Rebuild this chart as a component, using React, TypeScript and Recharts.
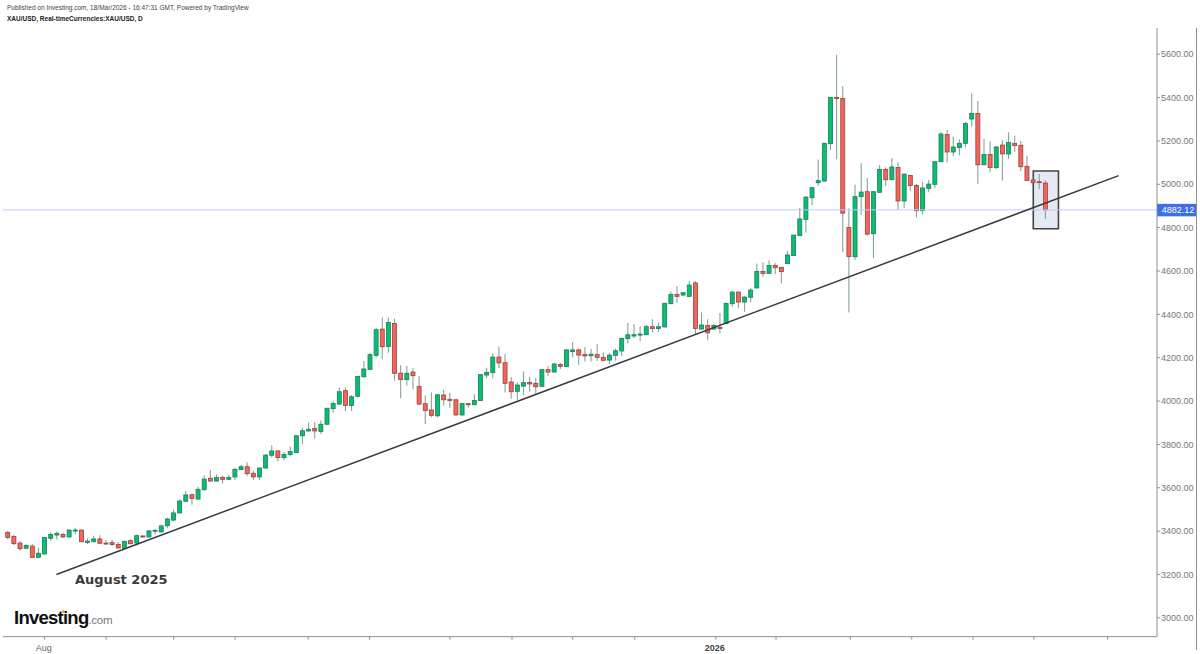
import React from "react";
import { ComposedChart, Bar, Line, XAxis, YAxis, ReferenceArea, ReferenceLine } from "recharts";

const opens = [
  3394,3376,3345,3321,3331,3279,3295,3367,3382,3385,
  3373,3402,3405,3348,3351,3364,3345,3347,3339,3321,
  3356,3345,3378,3373,3401,3396,3425,3451,3484,3538,
  3568,3548,3591,3644,3631,3648,3639,3650,3684,3697,
  3667,3650,3691,3750,3770,3739,3754,3762,3840,3862,
  3874,3860,3893,3965,3986,4048,3980,4022,4112,4146,
  4211,4332,4252,4358,4129,4099,4134,4068,3988,3959,
  3932,4028,4008,4006,3936,3988,3983,4002,4120,4131,
  4203,4177,4088,4045,4069,4086,4082,4068,4145,4134,
  4169,4160,4228,4236,4215,4209,4214,4202,4189,4211,
  4231,4288,4300,4305,4306,4343,4335,4342,4449,4492,
  4489,4483,4545,4332,4349,4332,4340,4357,4449,4503,
  4457,4479,4522,4598,4589,4626,4617,4634,4671,4763,
  4838,4938,5007,5015,5187,5401,5396,4801,4666,4943,
  4966,4772,4963,5069,5021,5078,4923,5041,4995,4878,
  4981,5000,5104,5230,5149,5170,5189,5301,5327,5090,
  5138,5077,5181,5140,5189,5180,5083,5020,5012,5006,
];
const highs = [
  3401,3381,3353,3339,3342,3322,3373,3395,3398,3393,
  3408,3416,3408,3367,3378,3381,3359,3359,3350,3356,
  3362,3385,3378,3404,3408,3431,3462,3499,3547,3585,
  3573,3605,3657,3682,3662,3657,3660,3694,3705,3717,
  3679,3694,3754,3796,3774,3765,3790,3842,3877,3900,
  3903,3910,3968,3999,4063,4063,4028,4117,4185,4223,
  4338,4385,4386,4380,4165,4162,4151,4115,4026,4039,
  4032,4052,4037,4008,3992,3991,4032,4125,4154,4220,
  4252,4217,4111,4086,4137,4112,4108,4146,4163,4177,
  4176,4239,4271,4242,4248,4240,4262,4225,4222,4242,
  4292,4360,4355,4345,4351,4377,4363,4454,4505,4531,
  4502,4554,4554,4409,4377,4355,4406,4454,4506,4506,
  4483,4523,4635,4640,4648,4637,4618,4692,4766,4892,
  4944,4989,5114,5190,5403,5598,5453,4889,4998,5097,
  5029,4967,5089,5078,5121,5101,5049,5044,5001,5012,
  5020,5106,5241,5250,5220,5207,5289,5420,5384,5209,
  5198,5178,5204,5240,5224,5200,5132,5027,5047,5018,
];
const lows = [
  3362,3336,3310,3316,3276,3278,3291,3356,3361,3367,
  3371,3387,3350,3341,3347,3341,3338,3333,3321,3318,
  3338,3335,3370,3371,3385,3395,3413,3445,3481,3533,
  3522,3545,3588,3628,3628,3620,3637,3636,3682,3654,
  3636,3636,3690,3740,3722,3727,3744,3760,3802,3859,
  3827,3848,3890,3946,3983,3954,3954,4017,4109,4145,
  4200,4192,4223,4094,4012,4071,4054,3982,3894,3925,
  3925,3979,3969,3932,3932,3969,3982,4000,4105,4105,
  4151,4039,4011,4005,4028,4043,4029,4065,4116,4132,
  4148,4157,4202,4168,4182,4183,4185,4183,4171,4186,
  4208,4265,4291,4277,4305,4317,4319,4340,4448,4454,
  4487,4480,4309,4331,4280,4331,4312,4355,4434,4431,
  4412,4457,4518,4574,4588,4585,4542,4632,4669,4761,
  4777,4904,4992,5012,5158,5115,4686,4408,4651,4860,
  4764,4660,4961,4992,5020,4881,4890,4970,4847,4861,
  4963,4983,5103,5100,5130,5134,5170,5267,5001,5089,
  5055,5070,5018,5117,5150,5060,5015,5004,4977,4840,
];
const closes = [
  3371,3342,3319,3334,3279,3298,3371,3384,3390,3373,
  3405,3405,3351,3354,3364,3344,3341,3338,3322,3353,
  3342,3379,3373,3401,3404,3424,3456,3484,3539,3567,
  3551,3593,3640,3631,3648,3639,3648,3685,3697,3665,
  3650,3691,3751,3770,3739,3754,3767,3840,3863,3870,
  3862,3893,3967,3989,4043,3980,4020,4114,4148,4214,
  4329,4251,4362,4128,4099,4128,4117,3986,3957,3934,
  4029,4006,4003,3936,3988,3983,4003,4122,4132,4203,
  4176,4082,4043,4074,4085,4079,4066,4145,4134,4171,
  4160,4236,4236,4212,4208,4216,4202,4188,4212,4232,
  4289,4306,4306,4309,4343,4334,4343,4451,4492,4483,
  4500,4535,4335,4351,4315,4349,4335,4451,4503,4457,
  4480,4512,4598,4589,4625,4615,4597,4674,4766,4840,
  4941,4984,5017,5189,5401,5395,4867,4667,4943,4964,
  4770,4966,5069,5021,5080,4923,5047,4994,4878,4983,
  5001,5104,5232,5149,5172,5189,5280,5327,5090,5138,
  5077,5172,5140,5193,5178,5081,5018,5007,5009,4882.12,
];

const priceTicks = [3000,3200,3400,3600,3800,4000,4200,4400,4600,4800,5000,5200,5400,5600];
const timeTicks = [6.1,16.1,27.1,37.1,49,59,72.1,82.2,92.1,102.2,115.4,125.2,137.3,147.3,157.3,167.2,179.2];
const timeLabels: Record<string, string> = { "6.1": "Aug", "115.4": "2026" };
const lastPrice = 4882.12;
const trendIndex = [8, 181];
const trendPrice = [3200, 5040];
const boxIndex = [167.1, 171.2];
const boxPrice = [4795, 5061];

const rows = opens.map((o, i) => ({ i, o, c: closes[i], h: highs[i], l: lows[i], range: [lows[i], highs[i]] }));
const trendRows = trendIndex.map((i, k) => ({ i, trend: trendPrice[k] }));

const UP = "#0cbc70", UP_EDGE = "#14805a", DOWN = "#f4645a", DOWN_EDGE = "#93453e", WICK = "#86a497";

function Candle(props: any) {
  const { x, y, width, height, payload } = props;
  const { o, c, h, l } = payload;
  const k = h > l ? height / (h - l) : 0;
  const cx = x + width / 2;
  const top = y + (h - Math.max(o, c)) * k;
  const bot = y + (h - Math.min(o, c)) * k;
  const up = c >= o;
  return (
    <g>
      <line x1={cx} x2={cx} y1={y} y2={y + height} stroke={WICK} strokeWidth={1.1} />
      <rect x={cx - 2} y={top} width={4} height={Math.max(bot - top, 1)} fill={up ? UP : DOWN} stroke={up ? UP_EDGE : DOWN_EDGE} strokeWidth={0.8} />
    </g>
  );
}

function TimeTick(props: any) {
  const { x, y, payload } = props;
  const label = timeLabels[String(payload.value)];
  if (!label) return null;
  return (
    <text x={x - 1} y={y + 9} textAnchor="middle" fontFamily="Liberation Sans" fontSize={9} fill={label === "2026" ? "#444" : "#666"} fontWeight={label === "2026" ? 700 : 400}>
      {label}
    </text>
  );
}

function PriceTag(props: any) {
  const y = props.viewBox.y;
  return (
    <g>
      <rect x={1157} y={y - 6} width={40} height={12.5} fill="#3f6fe4" />
      <text x={1161.7} y={y + 3.2} fontFamily="Liberation Sans" fontSize={9} fill="#fff">{lastPrice.toFixed(2)}</text>
    </g>
  );
}

export default function App() {
  return (
    <div style={{ position: "absolute", left: 0, top: 0, width: 1200, height: 654, background: "#fff", overflow: "hidden" }}>
      <ComposedChart width={1200} height={654} data={rows} margin={{ top: 28, right: 0, bottom: 0, left: 3 }}>
        <XAxis dataKey="i" type="number" domain={[-0.7, 187.25]} ticks={timeTicks} interval={0} allowDataOverflow height={17.3} tickSize={3} stroke="#8e8e8e" tick={<TimeTick />} />
        <YAxis orientation="right" type="number" domain={[2913, 5721]} ticks={priceTicks} interval={0} allowDataOverflow width={43} tickSize={3} tickMargin={1} stroke="#8e8e8e" tickFormatter={(v: number) => v.toFixed(2)} tick={{ fontFamily: "Liberation Sans", fontSize: 9, fill: "#777" }} />
        <ReferenceArea x1={boxIndex[0]} x2={boxIndex[1]} y1={boxPrice[0]} y2={boxPrice[1]} fill="#e4e9f4" fillOpacity={1} stroke="#444" strokeWidth={1.6} />
        <ReferenceLine y={lastPrice} stroke="#c3cff5" strokeWidth={1} label={<PriceTag />} />
        <Bar dataKey="range" barSize={5} isAnimationActive={false} shape={<Candle />} />
        <Line data={trendRows} dataKey="trend" stroke="#3a3a3a" strokeWidth={1.5} dot={false} isAnimationActive={false} />
      </ComposedChart>
      <div style={{ position: "absolute", left: 1196, top: 28, width: 1, height: 622, background: "#8e8e8e" }} />
      <div style={{ position: "absolute", left: 7, top: 4, fontFamily: "Liberation Sans", fontSize: 6.5, color: "#444", whiteSpace: "nowrap", lineHeight: "8px" }}>
        Published on Investing.com, 18/Mar/2026 - 16:47:31 GMT, Powered by TradingView
      </div>
      <div style={{ position: "absolute", left: 7, top: 15, fontFamily: "Liberation Sans", fontSize: 6.5, fontWeight: 700, color: "#222", whiteSpace: "nowrap", lineHeight: "8px" }}>
        XAU/USD, Real-timeCurrencies:XAU/USD, D
      </div>
      <div style={{ position: "absolute", left: 75, top: 571, fontFamily: "DejaVu Sans", fontSize: 13, fontWeight: 700, color: "#3a3a3a", whiteSpace: "nowrap", lineHeight: "18px" }}>
        August 2025
      </div>
      <div style={{ position: "absolute", left: 14, top: 607, fontFamily: "Liberation Sans", fontSize: 18.5, fontWeight: 700, letterSpacing: -0.75, color: "#111", whiteSpace: "nowrap", lineHeight: "22px" }}>
        Investing<span style={{ fontSize: 11.5, fontWeight: 400, color: "#777", letterSpacing: -0.3 }}>.com</span>
      </div>
      <div style={{ position: "absolute", left: 61.5, top: 610, width: 3, height: 3, borderRadius: 2, background: "#f39c2b" }} />
    </div>
  );
}
